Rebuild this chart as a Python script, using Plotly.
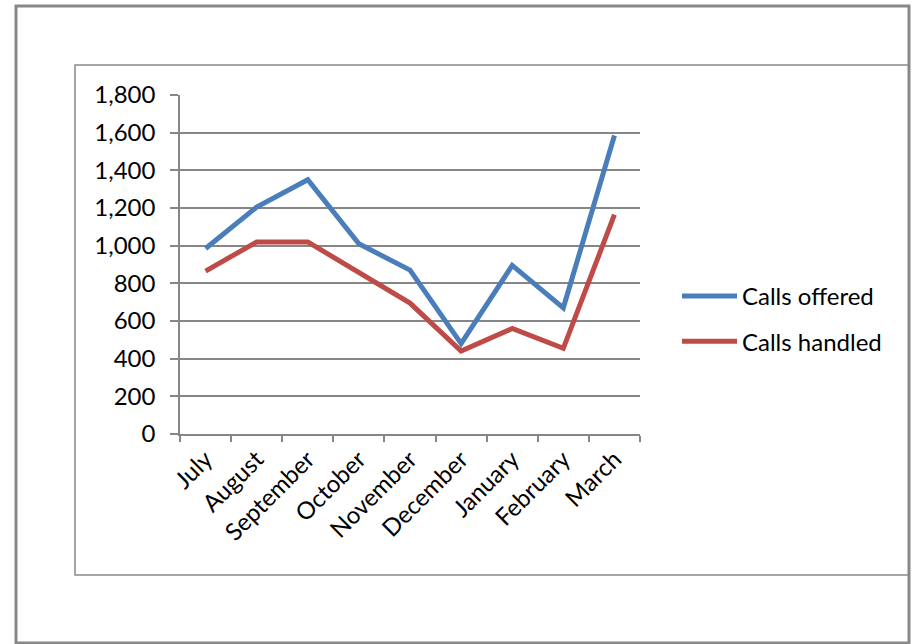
import plotly.graph_objects as go

months = ["July", "August", "September", "October", "November",
          "December", "January", "February", "March"]
calls_offered = [985, 1205, 1350, 1010, 870, 480, 895, 670, 1585]
calls_handled = [865, 1020, 1020, 860, 695, 440, 560, 455, 1165]
y_ticks = [0, 200, 400, 600, 800, 1000, 1200, 1400, 1600, 1800]

W, H = 919, 644
L, R, T, B = 180, 640, 95, 434  # plot area in pixels


def px_x(p):
    return (p - L) / (R - L)


def px_y(p):
    return (B - p) / (B - T)


FONT = "Lato, 'Open Sans', sans-serif"
GRID = "#868686"

fig = go.Figure()
fig.add_trace(go.Scatter(x=months, y=calls_offered, name="Calls offered",
                         mode="lines", line=dict(color="#4A7EBB", width=5),
                         legendgroup="a"))
fig.add_trace(go.Scatter(x=months, y=calls_handled, name="Calls handled",
                         mode="lines", line=dict(color="#BE4B48", width=5),
                         legendgroup="b"))

fig.update_layout(
    width=W, height=H,
    margin=dict(l=L, r=W - R, t=T, b=H - B, pad=0),
    paper_bgcolor="white", plot_bgcolor="white",
    font=dict(family=FONT, size=24, color="black"),
    showlegend=True,
    legend=dict(x=px_x(677), y=px_y(274), xanchor="left", yanchor="top",
                font=dict(size=24), tracegroupgap=11, itemwidth=55,
                bgcolor="rgba(0,0,0,0)"),
    xaxis=dict(type="category", showgrid=False, showline=True, linecolor=GRID,
               linewidth=1.5, ticks="outside", tickson="boundaries",
               ticklen=6, tickcolor=GRID, tickwidth=1.5, tickangle=-45,
               range=[-0.5, len(months) - 0.5], fixedrange=True),
    yaxis=dict(range=[0, 1800], tickvals=y_ticks, tickformat=",d",
               showgrid=True, gridcolor=GRID, gridwidth=1.5,
               showline=True, linecolor=GRID, linewidth=1.5,
               ticks="outside", ticklen=8, tickcolor=GRID, tickwidth=1.5,
               ticklabelstandoff=10, zeroline=False, fixedrange=True),
    shapes=[
        dict(type="rect", xref="paper", yref="paper",
             x0=px_x(16), x1=px_x(909), y0=px_y(643), y1=px_y(6),
             line=dict(color="#888888", width=3), layer="below"),
        dict(type="rect", xref="paper", yref="paper",
             x0=px_x(75), x1=px_x(909), y0=px_y(575), y1=px_y(65),
             line=dict(color="#888888", width=1.5), layer="below"),
    ],
)

fig.write_html("out.html")
